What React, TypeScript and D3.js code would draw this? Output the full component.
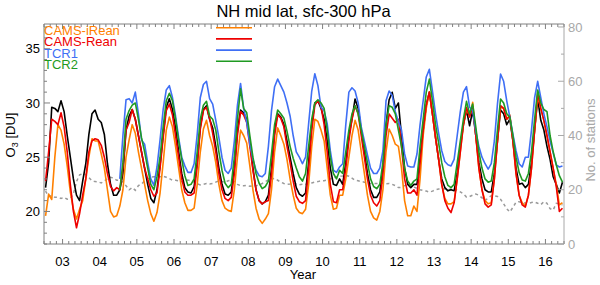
import React from 'react';
import * as d3 from 'd3';

// tick labels
const yearLabels = ['03', '04', '05', '06', '07', '08', '09', '10', '11', '12', '13', '14', '15', '16'];
const ozoneTicks = [20, 25, 30, 35];
const stationTicks = [0, 20, 40, 60, 80];

// monthly values Jan 2003 .. Dec 2016 (one row per year)
const observations = [
  22.2, 24.5, 29.6, 29.5, 29.2, 30.2, 29.2, 27.0, 25.0, 23.0, 21.5, 21.0,
  22.8, 24.4, 27.1, 29.0, 29.35, 28.5, 28.2, 27.1, 24.4, 22.5, 21.5, 21.5,
  22.0, 23.5, 27.5, 28.8, 29.4, 28.5, 27.0, 25.5, 24.0, 22.5, 21.2, 20.8,
  22.0, 24.3, 27.1, 29.6, 30.4, 29.4, 27.7, 25.5, 23.5, 22.2, 21.8, 21.7,
  22.3, 24.5, 27.8, 29.4, 29.75, 28.5, 27.7, 26.0, 24.0, 22.5, 21.6, 21.5,
  21.8, 24.0, 27.5, 29.35, 29.1, 28.5, 26.5, 24.0, 22.0, 21.0, 20.7, 20.9,
  21.5, 24.0, 27.5, 29.0, 28.7, 28.0, 26.5, 25.0, 23.5, 22.2, 21.6, 21.4,
  21.7, 24.5, 28.0, 30.0, 30.2, 29.5, 28.5, 26.5, 24.0, 22.5, 22.4, 23.0,
  22.5, 24.5, 27.0, 28.5, 30.37, 29.5, 27.5, 25.5, 23.5, 22.0, 21.3, 21.3,
  21.8, 24.0, 28.0, 30.3, 30.98, 29.5, 30.0, 27.0, 24.0, 22.5, 22.2, 22.5,
  22.5, 25.0, 27.5, 29.8, 31.0, 29.0, 26.8, 24.8, 23.0, 22.2, 21.9, 22.0,
  21.9, 23.5, 26.0, 28.0, 29.35, 27.9, 29.3, 27.0, 24.5, 23.0, 22.0, 21.8,
  21.8, 23.5, 26.5, 29.35, 29.0, 28.0, 28.5, 26.5, 24.0, 22.5, 22.6, 22.2,
  22.5, 24.5, 27.5, 30.4, 28.4, 27.5, 26.0, 24.8, 23.2, 22.5, 21.7, 22.7,
];

const camsIRean = [
  19.6, 21.6, 21.1, 25.0, 28.0, 27.5, 26.2, 24.2, 21.8, 20.2, 19.3, 20.2,
  21.0, 23.0, 25.0, 26.7, 26.5, 26.5, 25.3, 24.0, 22.0, 20.0, 19.5, 19.6,
  20.5, 22.0, 25.0, 26.6, 28.0, 27.2, 25.5, 24.0, 22.5, 21.0, 19.8, 19.1,
  19.9, 21.7, 24.5, 27.5, 28.7, 27.8, 26.0, 24.0, 22.0, 20.8, 20.1, 20.1,
  20.3, 22.5, 25.5, 27.6, 28.4, 27.0, 26.0, 24.5, 22.5, 21.0, 20.3, 20.1,
  20.0, 22.0, 25.0, 27.5, 27.0, 26.3, 24.2, 22.0, 20.3, 19.3, 18.9, 19.3,
  19.8, 22.0, 25.5, 27.7, 27.0, 26.2, 24.8, 23.0, 21.5, 20.3, 19.9, 19.8,
  20.2, 22.5, 26.0, 28.5, 28.3, 27.5, 26.5, 24.0, 21.5, 20.2, 20.3, 21.5,
  21.5, 23.0, 25.0, 27.0, 28.4, 27.5, 25.5, 23.5, 21.5, 20.0, 19.4, 19.2,
  20.0, 22.0, 25.5, 27.6, 27.0, 26.2, 26.0, 24.0, 21.0, 19.6, 19.6, 20.5,
  20.0, 23.0, 27.0, 29.5, 31.0, 29.0, 26.8, 24.8, 22.5, 21.2, 20.7, 20.7,
  20.9, 23.0, 25.5, 28.0, 29.4, 28.8, 30.06, 27.0, 24.0, 22.0, 21.0, 20.7,
  20.8, 23.0, 26.5, 29.6, 29.5, 28.5, 28.9, 26.5, 23.5, 21.5, 20.8, 20.5,
  21.5, 24.0, 27.5, 30.6, 29.5, 28.4, 27.0, 25.5, 24.0, 22.5, 20.6, 20.8,
];

const camsRean = [
  22.8, 25.5, 28.5, 28.3, 28.0, 29.1, 27.8, 25.5, 22.5, 20.0, 18.5, 19.8,
  21.5, 23.0, 25.5, 26.5, 26.7, 26.6, 26.1, 25.0, 23.5, 22.3, 21.9, 22.2,
  22.0, 24.0, 27.5, 28.2, 29.4, 28.5, 27.0, 25.5, 24.0, 23.0, 22.0, 21.4,
  21.7, 24.0, 26.8, 29.3, 29.9, 28.9, 27.0, 25.0, 23.0, 21.8, 21.5, 21.5,
  21.7, 24.2, 27.6, 29.3, 29.6, 28.6, 27.2, 25.5, 23.5, 22.0, 21.2, 21.0,
  21.3, 23.5, 27.0, 29.2, 28.9, 28.2, 26.0, 23.8, 22.0, 21.0, 20.7, 20.9,
  21.0, 23.5, 27.0, 28.9, 28.6, 27.8, 26.0, 24.5, 22.8, 21.4, 20.9, 20.75,
  21.0, 24.0, 27.5, 29.8, 30.2, 29.7, 28.0, 25.5, 22.5, 20.9, 20.8, 22.0,
  22.0, 24.0, 26.5, 28.5, 29.75, 29.0, 27.0, 25.0, 23.0, 21.5, 20.8, 20.5,
  21.0, 23.5, 27.0, 28.98, 28.6, 28.2, 28.5, 26.0, 23.0, 21.7, 21.7, 22.0,
  21.5, 24.5, 27.5, 29.8, 31.0, 29.0, 26.8, 24.8, 22.5, 21.0, 20.3, 19.9,
  20.8, 23.0, 25.5, 28.0, 29.6, 28.7, 29.7, 27.0, 24.0, 22.0, 20.7, 20.4,
  20.6, 23.0, 26.5, 29.75, 29.5, 28.5, 28.8, 26.5, 23.5, 21.5, 20.6, 20.4,
  21.5, 24.0, 27.5, 30.9, 29.5, 28.4, 27.0, 25.5, 24.0, 22.3, 20.0, 20.3,
];

// TCR runs start in 2005
const tcr1 = [
  ...Array(24).fill(null),
  23.0, 27.0, 30.3, 30.4, 30.0, 31.0, 29.0, 26.6, 26.2, 24.5, 23.0, 22.4,
  24.1, 26.6, 29.4, 31.2, 31.6, 30.5, 28.8, 26.8, 25.0, 24.2, 23.6, 23.6,
  24.4, 27.1, 30.5, 31.7, 32.0, 30.4, 29.9, 28.4, 26.8, 25.0, 23.8, 23.5,
  24.0, 26.5, 29.8, 31.8, 29.5, 28.2, 26.2, 24.8, 23.8, 23.3, 23.2, 23.5,
  26.0, 29.3, 31.5, 32.2, 31.6, 31.0, 30.0, 28.8, 27.0, 25.5, 25.0, 24.4,
  25.0, 28.1, 31.1, 32.7, 31.6, 29.6, 29.3, 28.1, 25.6, 23.8, 23.6, 24.1,
  24.4, 28.0, 31.0, 31.4, 31.1, 30.0, 27.8, 26.5, 25.2, 24.0, 23.5, 23.5,
  24.0, 25.6, 30.2, 31.1, 30.7, 29.2, 28.3, 27.5, 25.3, 24.2, 24.1, 24.1,
  25.3, 28.0, 30.2, 32.4, 33.1, 31.1, 29.0, 27.2, 25.6, 24.6, 24.3, 24.2,
  24.8, 27.0, 29.2, 31.0, 31.5, 29.6, 29.3, 27.4, 26.0, 25.0, 24.4, 23.9,
  24.4, 26.5, 29.9, 32.67, 32.0, 30.2, 28.7, 27.1, 25.6, 24.4, 24.1, 25.0,
  25.0, 27.5, 30.5, 32.0, 30.5, 29.0, 27.8, 26.5, 25.4, 24.3, 24.1, 24.2,
];

const tcr2 = [
  ...Array(24).fill(null),
  22.0, 24.5, 28.5, 29.3, 29.8, 30.0, 28.5, 26.8, 25.5, 24.0, 22.5, 22.0,
  23.2, 25.0, 27.8, 30.2, 30.9, 30.2, 28.5, 26.5, 24.8, 23.3, 22.4, 22.5,
  23.0, 25.5, 28.5, 29.8, 30.15, 28.8, 28.5, 27.5, 25.5, 23.8, 22.6, 22.2,
  22.5, 25.0, 28.5, 31.3, 29.5, 29.1, 27.0, 25.0, 23.5, 22.6, 22.1, 22.3,
  22.8, 25.3, 28.0, 29.35, 29.0, 28.6, 27.4, 26.0, 24.9, 24.0, 23.2, 22.8,
  23.5, 26.0, 28.5, 30.0, 30.3, 30.0, 29.5, 27.5, 25.0, 23.5, 23.0, 23.8,
  23.5, 25.5, 27.5, 29.0, 29.75, 29.0, 27.5, 26.0, 24.5, 23.0, 22.3, 22.1,
  22.5, 24.5, 28.0, 29.75, 29.6, 29.0, 27.5, 26.0, 24.0, 22.8, 22.4, 22.8,
  23.0, 26.0, 28.5, 31.0, 32.2, 30.2, 28.0, 26.3, 24.5, 23.2, 22.4, 22.2,
  22.5, 24.5, 26.5, 28.5, 30.15, 29.0, 29.9, 27.8, 25.5, 24.0, 23.0, 22.7,
  22.8, 24.5, 27.5, 30.37, 30.0, 29.0, 28.7, 27.0, 25.0, 23.6, 22.9, 22.8,
  23.5, 25.5, 28.5, 31.2, 30.0, 29.4, 29.2, 27.0, 25.5, 24.3, 23.3, 22.7,
];

const stations = [
  19.5, 17.5, 17.8, 17.2, 17.2, 16.8, 17.2, 16.5, 16.8, 18.5, 23.0, 25.5,
  25.8, 25.6, 24.5, 23.3, 23.0, 22.9, 22.5, 23.3, 24.0, 24.6, 24.3, 23.5,
  23.5, 22.8, 21.5, 20.0, 20.8, 19.8, 21.5, 22.1, 23.3, 24.0, 24.6, 24.8,
  24.8, 24.8, 25.0, 24.6, 24.1, 23.5, 23.5, 23.3, 23.0, 23.3, 23.6, 23.3,
  22.8, 22.2, 21.8, 22.0, 22.3, 22.1, 22.3, 22.8, 23.3, 23.0, 22.8, 23.3,
  23.5, 23.0, 22.0, 21.5, 21.5, 21.6, 21.3, 21.5, 21.5, 21.8, 22.3, 23.0,
  23.6, 24.0, 24.2, 23.5, 22.8, 22.3, 22.0, 22.1, 22.3, 22.1, 21.8, 22.0,
  22.0, 22.2, 22.5, 22.8, 23.0, 23.3, 23.3, 23.6, 24.0, 24.3, 24.8, 25.0,
  25.1, 25.3, 25.0, 24.3, 23.5, 23.3, 23.0, 22.8, 22.5, 22.3, 22.3, 22.3,
  22.3, 22.5, 22.2, 22.3, 22.0, 21.5, 20.8, 20.9, 21.5, 22.0, 21.8, 21.0,
  20.5, 20.0, 19.7, 19.5, 19.1, 19.5, 20.0, 20.3, 20.3, 20.3, 20.0, 20.3,
  20.3, 19.8, 19.2, 18.5, 17.3, 17.5, 18.0, 18.4, 18.0, 17.0, 16.0, 17.0,
  17.8, 17.8, 17.5, 16.5, 14.8, 13.0, 11.8, 13.5, 15.4, 15.6, 15.2, 15.1,
  15.0, 15.3, 15.5, 15.0, 14.5, 15.6, 15.0, 13.0, 12.5, 15.0, 14.8, 14.4,
];

const series = [
  { name: 'obs', values: observations, color: '#000000' },
  { name: 'CAMS-iRean', values: camsIRean, color: '#ff8000' },
  { name: 'CAMS-Rean', values: camsRean, color: '#ee0000' },
  { name: 'TCR1', values: tcr1, color: '#3f6ff5' },
  { name: 'TCR2', values: tcr2, color: '#1f9a22' },
];

const width = 600;
const height = 285;
const margin = { top: 24, right: 36, bottom: 41, left: 44 };
const font = '"Liberation Sans", Arial, Helvetica, sans-serif';
const axisColor = '#808080';
const rightColor = '#a8a8a8';

const App = () => {
  const x = d3.scaleLinear().domain([2003, 2017]).range([margin.left, width - margin.right]);
  const y = d3.scaleLinear().domain([17, 37.28]).range([height - margin.bottom, margin.top]);
  const yN = d3.scaleLinear().domain([0, 81.1]).range([height - margin.bottom, margin.top]);
  const top = margin.top;
  const bottom = height - margin.bottom;
  const left = margin.left;
  const right = width - margin.right;

  const monthT = (i: number) => 2003 + (i + 0.5) / 12;

  const line = d3.line<number | null>()
    .defined(d => d != null)
    .x((_, i) => x(monthT(i)))
    .y(d => y(d as number));

  const stationLine = d3.line<number>()
    .x((_, i) => x(monthT(i)))
    .y(d => yN(d));

  const xTicks = d3.range(0, 14 * 12 + 1, 2).map(m => 2003 + m / 12);
  const yMinor = d3.range(17, 38);
  const nMinor = d3.range(0, 81, 10);

  const legendItems = series.slice(1);

  return (
    <svg width={width} height={height} style={{ position: 'absolute', left: 0, top: 0, background: '#fff' }}
      fontFamily={font}>
      {/* station count, right axis */}
      <path d={stationLine(stations) || ''} fill="none" stroke="#9a9a9a" strokeWidth={1.5} strokeDasharray="3,3" />

      {series.map(s => (
        <path key={s.name} d={line(s.values) || ''} fill="none" stroke={s.color} strokeWidth={1.6}
          strokeLinejoin="round" />
      ))}

      {/* frame */}
      <line x1={left} x2={right} y1={top} y2={top} stroke={axisColor} strokeWidth={1} />
      <line x1={left} x2={right} y1={bottom} y2={bottom} stroke={axisColor} strokeWidth={1} />
      <line x1={left} x2={left} y1={top} y2={bottom} stroke={axisColor} strokeWidth={1} />
      <line x1={right} x2={right} y1={top} y2={bottom} stroke={rightColor} strokeWidth={1} />

      {/* x ticks, bottom and top */}
      {xTicks.map((t, k) => {
        const major = Math.abs((t - 2003) % 1 - 0.5) < 1e-6;
        const len = major ? 5 : 3;
        return (
          <g key={'xt' + k}>
            <line x1={x(t)} x2={x(t)} y1={bottom} y2={bottom - len} stroke={axisColor} />
            <line x1={x(t)} x2={x(t)} y1={top} y2={top + len} stroke={axisColor} />
          </g>
        );
      })}
      {yearLabels.map((lab, k) => (
        <text key={lab} x={x(2003 + k + 0.5)} y={266} textAnchor="middle" fontSize={13}>{lab}</text>
      ))}
      <text x={303} y={279} textAnchor="middle" fontSize={13}>Year</text>

      {/* left axis */}
      {yMinor.map(v => (
        <line key={'yl' + v} x1={left} x2={left + (ozoneTicks.includes(v) ? 6 : 3)} y1={y(v)} y2={y(v)}
          stroke={axisColor} />
      ))}
      {ozoneTicks.map(v => (
        <text key={'yt' + v} x={40} y={y(v) + 4.6} textAnchor="end" fontSize={13}>{v}</text>
      ))}
      <text transform="translate(15,135) rotate(-90)" textAnchor="middle" fontSize={13}>
        O<tspan fontSize={9} dy={3}>3</tspan><tspan dy={-3}> [DU]</tspan>
      </text>

      {/* right axis */}
      {nMinor.map(v => (
        <line key={'yr' + v} x1={right} x2={right - (stationTicks.includes(v) ? 6 : 3)} y1={yN(v)} y2={yN(v)}
          stroke={rightColor} />
      ))}
      {stationTicks.map(v => (
        <text key={'nt' + v} x={568} y={yN(v) + 4.6} fontSize={13} fill={rightColor}>{v}</text>
      ))}
      <text transform="translate(595,140) rotate(-90)" textAnchor="middle" fontSize={13} fill={rightColor}>
        No. of stations
      </text>

      {/* title */}
      <text x={303.5} y={17} textAnchor="middle" fontSize={16.5}>NH mid lat, sfc-300 hPa</text>

      {/* legend */}
      {legendItems.map((s, k) => (
        <g key={'lg' + s.name}>
          <text x={left} y={35 + k * 11.4} fontSize={13} fill={s.color}>{s.name}</text>
          <line x1={216} x2={252} y1={27.7 + k * 11.2} y2={27.7 + k * 11.2} stroke={s.color} strokeWidth={1.6} />
        </g>
      ))}
    </svg>
  );
};

export default App;
